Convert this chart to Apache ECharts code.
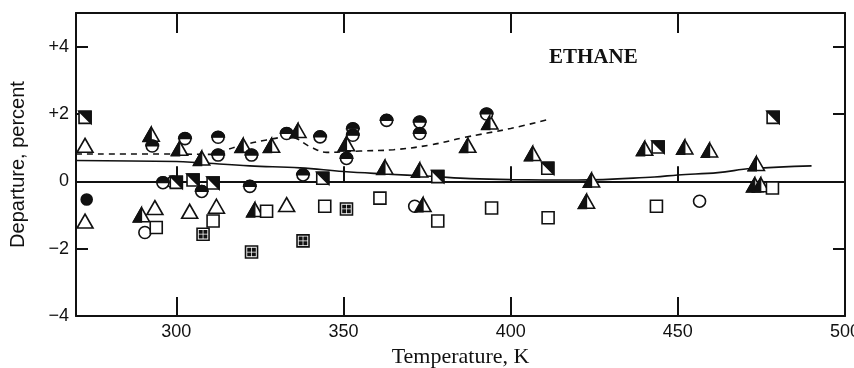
<!DOCTYPE html>
<html lang="en">
<head>
<meta charset="UTF-8">
<title>Ethane departure</title>
<script src="https://cdn.jsdelivr.net/npm/echarts@6/dist/echarts.min.js"></script>
<style>
  html, body { margin: 0; padding: 0; background: #fff; }
  #main { width: 854px; height: 368px; }
</style>
</head>
<body>
<div id="main"></div>
<script>
// tick labels
var xTicks = [300, 350, 400, 450, 500];
var yTicks = [-4, -2, 0, 2, 4];
var yTickText = {'-4': '\u22124', '-2': '\u22122', '0': '0', '2': '+2', '4': '+4'};

// smoothed curves
var solidCurve = [[270, 0.62], [300, 0.59], [307, 0.55], [322, 0.46], [337, 0.4], [350, 0.29], [362, 0.22], [376, 0.15], [388, 0.08], [400, 0.05], [420, 0.04], [443, 0.13], [450, 0.19], [462, 0.26], [472, 0.38], [490, 0.46]];
var dashedCurve = [[270, 0.81], [300, 0.81], [310, 0.8], [318, 1.03], [327, 1.23], [334, 1.32], [340, 1.03], [345, 0.86], [355, 0.9], [365, 0.94], [376, 1.08], [386, 1.3], [400, 1.57], [411, 1.83]];

// points by marker type
var openTri = [[272.7, 1.07], [272.7, -1.18], [293.6, -0.78], [304, -0.89], [312, -0.74], [333, -0.69]];
var halfTri = [[292.5, 1.4], [301, 0.98], [307.6, 0.69], [320, 1.07], [328.5, 1.07], [336.4, 1.51], [350.9, 1.12], [362.4, 0.42], [372.8, 0.34], [373.8, -0.69], [387.2, 1.07], [393.8, 1.76], [406.6, 0.83], [424.2, 0.04], [422.7, -0.59], [440.1, 0.98], [452.1, 1.02], [459.5, 0.93], [473.5, 0.53], [473, -0.1], [474.8, -0.1], [289.6, -0.99], [323.5, -0.84]];
var openCirc = [[299, -0.02], [290.6, -1.52], [371.3, -0.74], [456.5, -0.59]];
var halfCirc = [[292.8, 1.05], [302.6, 1.27], [312.5, 1.31], [312.5, 0.78], [322.5, 0.78], [333, 1.42], [343, 1.32], [337.9, 0.19], [352.8, 1.56], [352.8, 1.37], [350.9, 0.68], [362.9, 1.81], [372.8, 1.76], [372.8, 1.42], [392.8, 2.0], [296, -0.04], [307.6, -0.3], [322, -0.15]];
var fullCirc = [[273.2, -0.54]];
var openSq = [[294, -1.37], [311, -1.18], [327, -0.89], [344.4, -0.74], [360.9, -0.5], [378.2, -1.18], [394.3, -0.79], [411.2, -1.08], [443.6, -0.74], [478.3, -0.2]];
var halfSq = [[272.7, 1.9], [300, -0.03], [305, 0.04], [311, -0.05], [343.8, 0.09], [378.2, 0.14], [411.1, 0.39], [444.1, 1.02], [478.5, 1.9]];
var dotSq = [[308, -1.57], [322.5, -2.1], [337.9, -1.77], [350.9, -0.82]];

var myChart = echarts.init(document.getElementById('main'));
var ink = '#111';
var sans = '"Liberation Sans", Arial, sans-serif';
var serif = '"Liberation Serif", "Times New Roman", serif';

function pts(data, symbol, size, fill, extra) {
    var s = {
        type: 'scatter',
        data: data,
        symbol: symbol,
        symbolSize: size,
        itemStyle: { color: fill, borderColor: ink, borderWidth: 1.6, opacity: 1 },
        silent: true,
        z: 3
    };
    for (var k in extra) s[k] = extra[k];
    return s;
}

var option = {
    animation: false,
    title: {
        text: 'ETHANE',
        left: 544,
        top: 42,
        textStyle: { fontFamily: serif, fontSize: 21, fontWeight: 'bold', color: ink }
    },
    grid: { left: 76, right: 9, top: 13, bottom: 52, outerBoundsMode: 'none' },
    xAxis: [
        {
            type: 'value', min: 270, max: 500, position: 'bottom',
            name: 'Temperature, K', nameLocation: 'middle', nameGap: 28,
            nameTextStyle: { fontFamily: serif, fontSize: 22, color: ink },
            axisLine: { onZero: false, lineStyle: { color: ink, width: 2 } },
            axisTick: { inside: true, length: 19, customValues: [300, 350, 400, 450], lineStyle: { color: ink, width: 2 } },
            axisLabel: { customValues: xTicks, margin: 7, fontFamily: sans, fontSize: 18, color: ink },
            splitLine: { show: false }
        },
        {
            type: 'value', min: 270, max: 500, position: 'top',
            axisLine: { onZero: false, lineStyle: { color: ink, width: 2 } },
            axisTick: { inside: true, length: 20, customValues: [300, 350, 400, 450], lineStyle: { color: ink, width: 2 } },
            axisLabel: { show: false },
            splitLine: { show: false }
        },
        {
            type: 'value', min: 270, max: 500, position: 'bottom',
            axisLine: { onZero: true, lineStyle: { color: ink, width: 1.8 } },
            axisTick: { inside: true, length: 15, customValues: [300, 350, 400, 450], lineStyle: { color: ink, width: 2 } },
            axisLabel: { show: false },
            splitLine: { show: false }
        }
    ],
    yAxis: [
        {
            type: 'value', min: -4, max: 5, position: 'left',
            name: 'Departure, percent', nameLocation: 'middle', nameGap: 48,
            nameTextStyle: { fontFamily: sans, fontSize: 20, color: ink },
            axisLine: { onZero: false, lineStyle: { color: ink, width: 2 } },
            axisTick: { inside: true, length: 12, customValues: yTicks, lineStyle: { color: ink, width: 2 } },
            axisLabel: {
                customValues: yTicks, margin: 7, fontFamily: sans, fontSize: 18, color: ink,
                formatter: function (v) { return yTickText[String(v)]; }
            },
            splitLine: { show: false }
        },
        {
            type: 'value', min: -4, max: 5, position: 'right',
            axisLine: { onZero: false, lineStyle: { color: ink, width: 2 } },
            axisTick: { inside: true, length: 12, customValues: [-2, 0, 2, 4], lineStyle: { color: ink, width: 2 } },
            axisLabel: { show: false },
            splitLine: { show: false }
        }
    ],
    series: [
        {
            type: 'line', data: solidCurve, smooth: 0.4, symbol: 'none', silent: true,
            lineStyle: { color: ink, width: 1.6 }, z: 2
        },
        {
            type: 'line', data: dashedCurve, smooth: 0.4, symbol: 'none', silent: true,
            lineStyle: { color: ink, width: 1.6, type: [6, 5] }, z: 2
        },
        pts(openTri, 'triangle', [16, 14], '#fff'),
        pts(halfTri, 'triangle', [16, 14], '#fff'),
        pts(halfTri, 'path://M0,10 L5,0 L5,10 Z', [8, 14], ink, { symbolOffset: [-4, 0], z: 4 }),
        pts(openCirc, 'circle', 12, '#fff'),
        pts(halfCirc, 'circle', 12, '#fff'),
        pts(halfCirc, 'path://M0,5 A5,5 0 0,1 10,5 Z', [12, 6], ink, { symbolOffset: [0, -3], z: 4 }),
        pts(fullCirc, 'circle', 11, ink),
        pts(openSq, 'rect', 12, '#fff'),
        pts(halfSq, 'rect', 12, '#fff'),
        pts(halfSq, 'path://M0,0 L10,0 L10,10 Z', 12, ink, { z: 4 }),
        pts(dotSq, 'rect', 12, '#fff'),
        pts(dotSq, 'path://M0,0h2v2h-2z M4,4h2v2h-2z M4,0h2v2h-2z M0,4h2v2h-2z', 7, ink, { z: 4 })
    ]
};

if (option && typeof option === "object") {
    myChart.setOption(option);
}
</script>
</body>
</html>
